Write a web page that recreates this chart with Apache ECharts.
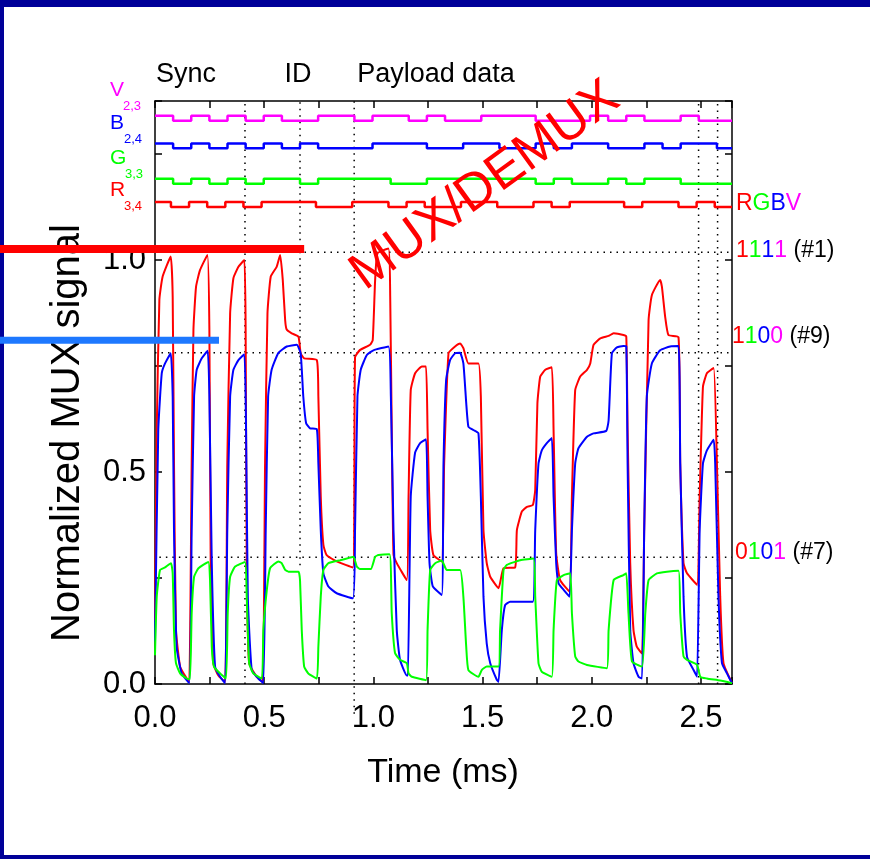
<!DOCTYPE html>
<html><head><meta charset="utf-8">
<script src="https://cdn.jsdelivr.net/npm/echarts@6/dist/echarts.min.js"></script>
<style>html,body{margin:0;padding:0;background:#fff}#c{width:870px;height:859px}</style>
</head><body><div id="c"></div>
<script>
// ---------- data ----------
const X_MAX = 2.642;           // ms, right edge of the plot
const Y_MAX = 1.375;
const xTickLabels = [0.0, 0.5, 1.0, 1.5, 2.0, 2.5];
const yTickLabels = [0.0, 0.5, 1.0];

// digital bit streams (one value per bit slot)
const BIT_MS = 0.083;
const bitsV = [1,0,1,0,1,0,1,0,0,1,1,0,1,1,0,1,0,0,1,1,1,0,0,0,1,0,1,0,0,1,0,0];
const bitsB = [1,0,1,0,1,0,1,0,1,0,0,0,1,1,1,0,0,1,1,0,0,1,0,1,1,0,0,1,0,1,1,0];
const bitsG = [1,0,1,0,1,0,1,1,0,1,1,1,1,0,0,1,1,1,1,1,1,0,1,0,0,1,0,1,1,0,0,0];
const bitsR = [1,0,1,0,1,0,1,1,1,0,0,1,1,0,1,0,0,1,1,0,0,1,0,1,1,1,0,1,1,0,1,0];
const delayV = 0, delayB = 0, delayG = 0, delayR = -0.01;
// display level of each digital trace (low level, step height)
const levelV = 1.3285, levelB = 1.2634, levelG = 1.180, levelR = 1.125;
const stepHeight = 0.0115;

// analog MUX traces [time ms, normalized signal]
const redTrace = [[0,0.15],[0.008,0.6],[0.02,0.906],[0.035,0.961],[0.072,1.008],[0.081,0.913],[0.087,0.52],[0.096,0.127],[0.115,0.041],[0.145,0.013],[0.157,0.005],[0.168,0.52],[0.176,0.835],[0.188,0.937],[0.206,0.976],[0.240,1.012],[0.249,0.835],[0.255,0.285],[0.267,0.049],[0.290,0.02],[0.321,0.005],[0.331,0.52],[0.344,0.874],[0.359,0.957],[0.382,0.984],[0.409,1.0],[0.415,0.835],[0.420,0.285],[0.431,0.049],[0.466,0.017],[0.493,0.005],[0.504,0.52],[0.515,0.874],[0.530,0.961],[0.557,0.984],[0.573,1.012],[0.585,0.953],[0.596,0.858],[0.603,0.836],[0.626,0.827],[0.657,0.819],[0.667,0.78],[0.683,0.768],[0.741,0.764],[0.748,0.678],[0.759,0.442],[0.771,0.328],[0.786,0.304],[0.832,0.289],[0.906,0.275],[0.916,0.771],[0.939,0.788],[0.985,0.800],[0.997,0.811],[1.008,0.953],[1.019,1.016],[1.069,1.027],[1.077,0.913],[1.084,0.599],[1.092,0.306],[1.107,0.285],[1.153,0.245],[1.161,0.442],[1.171,0.693],[1.191,0.733],[1.222,0.749],[1.241,0.749],[1.248,0.599],[1.26,0.363],[1.275,0.304],[1.313,0.289],[1.324,0.52],[1.344,0.78],[1.374,0.796],[1.397,0.803],[1.412,0.792],[1.435,0.756],[1.481,0.756],[1.492,0.678],[1.504,0.363],[1.519,0.285],[1.535,0.253],[1.573,0.226],[1.596,0.273],[1.649,0.275],[1.657,0.363],[1.68,0.407],[1.703,0.418],[1.730,0.422],[1.741,0.458],[1.751,0.662],[1.764,0.725],[1.787,0.741],[1.817,0.747],[1.825,0.599],[1.837,0.308],[1.855,0.245],[1.898,0.218],[1.909,0.442],[1.924,0.693],[1.947,0.725],[1.978,0.741],[1.993,0.756],[2.008,0.8],[2.039,0.815],[2.077,0.821],[2.1,0.827],[2.145,0.823],[2.158,0.819],[2.164,0.599],[2.176,0.285],[2.191,0.127],[2.206,0.088],[2.23,0.072],[2.24,0.363],[2.26,0.858],[2.275,0.917],[2.313,0.953],[2.321,0.937],[2.336,0.866],[2.351,0.823],[2.397,0.818],[2.405,0.52],[2.42,0.285],[2.436,0.261],[2.482,0.234],[2.494,0.442],[2.509,0.701],[2.527,0.733],[2.558,0.745],[2.573,0.52],[2.588,0.206],[2.603,0.049],[2.642,0.002]];
const blueTrace = [[0,0.1],[0.015,0.599],[0.031,0.733],[0.046,0.756],[0.072,0.78],[0.081,0.678],[0.087,0.363],[0.099,0.088],[0.122,0.025],[0.157,0.002],[0.168,0.363],[0.179,0.678],[0.191,0.741],[0.214,0.768],[0.241,0.786],[0.249,0.678],[0.26,0.285],[0.275,0.041],[0.298,0.017],[0.321,0.002],[0.331,0.363],[0.344,0.678],[0.359,0.741],[0.382,0.764],[0.409,0.778],[0.417,0.599],[0.425,0.206],[0.443,0.033],[0.473,0.013],[0.496,0.002],[0.507,0.363],[0.518,0.678],[0.534,0.741],[0.565,0.781],[0.603,0.796],[0.649,0.8],[0.667,0.78],[0.679,0.678],[0.692,0.615],[0.71,0.603],[0.741,0.601],[0.748,0.52],[0.759,0.363],[0.771,0.261],[0.794,0.23],[0.832,0.214],[0.906,0.202],[0.916,0.363],[0.927,0.678],[0.942,0.741],[0.97,0.776],[1.0,0.787],[1.069,0.796],[1.08,0.678],[1.092,0.363],[1.107,0.127],[1.122,0.057],[1.153,0.02],[1.158,0.02],[1.171,0.442],[1.191,0.546],[1.214,0.568],[1.241,0.577],[1.248,0.442],[1.257,0.285],[1.272,0.23],[1.313,0.21],[1.321,0.52],[1.333,0.717],[1.351,0.764],[1.374,0.78],[1.397,0.781],[1.412,0.756],[1.425,0.663],[1.435,0.607],[1.458,0.599],[1.481,0.591],[1.492,0.442],[1.504,0.206],[1.519,0.095],[1.535,0.049],[1.565,0.01],[1.573,0.005],[1.588,0.127],[1.603,0.186],[1.626,0.194],[1.672,0.194],[1.730,0.194],[1.741,0.363],[1.756,0.52],[1.771,0.551],[1.794,0.568],[1.817,0.58],[1.825,0.442],[1.837,0.285],[1.848,0.237],[1.871,0.222],[1.898,0.206],[1.909,0.363],[1.924,0.52],[1.939,0.556],[1.978,0.583],[2.008,0.591],[2.066,0.597],[2.077,0.622],[2.092,0.78],[2.115,0.794],[2.145,0.797],[2.158,0.796],[2.164,0.52],[2.176,0.127],[2.191,0.049],[2.214,0.017],[2.23,0.013],[2.24,0.363],[2.252,0.678],[2.275,0.756],[2.313,0.787],[2.359,0.796],[2.397,0.797],[2.405,0.52],[2.42,0.206],[2.436,0.064],[2.466,0.033],[2.482,0.017],[2.494,0.363],[2.509,0.52],[2.527,0.551],[2.558,0.576],[2.565,0.52],[2.58,0.206],[2.596,0.049],[2.619,0.025],[2.642,0.002]];
const greenTrace = [[0,0.068],[0.008,0.206],[0.023,0.269],[0.046,0.275],[0.073,0.285],[0.081,0.261],[0.087,0.127],[0.096,0.049],[0.115,0.025],[0.145,0.013],[0.16,0.011],[0.168,0.167],[0.179,0.253],[0.199,0.273],[0.244,0.288],[0.252,0.245],[0.26,0.088],[0.27,0.041],[0.298,0.025],[0.325,0.013],[0.333,0.167],[0.344,0.253],[0.367,0.277],[0.412,0.288],[0.42,0.206],[0.431,0.049],[0.45,0.025],[0.489,0.013],[0.496,0.127],[0.512,0.222],[0.527,0.273],[0.565,0.289],[0.58,0.285],[0.596,0.269],[0.611,0.265],[0.657,0.265],[0.664,0.245],[0.672,0.127],[0.683,0.041],[0.702,0.025],[0.741,0.013],[0.748,0.088],[0.759,0.206],[0.771,0.269],[0.794,0.285],[0.848,0.292],[0.893,0.298],[0.909,0.3],[0.924,0.277],[0.939,0.271],[0.988,0.271],[1.008,0.3],[1.023,0.304],[1.074,0.306],[1.084,0.167],[1.099,0.073],[1.122,0.057],[1.153,0.049],[1.161,0.025],[1.176,0.017],[1.241,0.009],[1.248,0.127],[1.26,0.269],[1.283,0.285],[1.313,0.291],[1.336,0.269],[1.397,0.269],[1.412,0.206],[1.425,0.088],[1.435,0.033],[1.481,0.017],[1.496,0.033],[1.519,0.041],[1.573,0.041],[1.58,0.127],[1.596,0.269],[1.611,0.281],[1.672,0.292],[1.733,0.296],[1.741,0.206],[1.756,0.049],[1.771,0.029],[1.817,0.017],[1.825,0.127],[1.84,0.245],[1.871,0.257],[1.901,0.261],[1.909,0.167],[1.924,0.065],[1.939,0.053],[1.978,0.045],[2.069,0.037],[2.077,0.127],[2.1,0.245],[2.145,0.257],[2.158,0.261],[2.168,0.167],[2.184,0.053],[2.23,0.041],[2.245,0.167],[2.26,0.245],[2.298,0.261],[2.344,0.265],[2.397,0.267],[2.405,0.167],[2.42,0.065],[2.436,0.057],[2.482,0.045],[2.497,0.017],[2.527,0.013],[2.588,0.008],[2.642,0.002]];

// dotted guide lines
const guideTimes = [0.412, 0.664, 0.912, 2.489, 2.576];
const guideTimeBottoms = [0, 0.28, -0.07, 0, 0];
const guideLevels = [1.018, 0.781, 0.299];
const guideLevelStarts = [0, 0, 0.02];

// highlight bars in the left margin: [end time, level]
const redBar = [0.683, 1.026];
const blueBar = [0.293, 0.811];

// ---------- chart ----------
const FONT = "'Liberation Sans', Arial, Helvetica, sans-serif";
const chart = echarts.init(document.getElementById('c'), null, {renderer: 'canvas'});

function stepData(bits, delay, level) {
  const d = bits.map((b, i) => [Math.max(0, i * BIT_MS + delay), level + b * stepHeight]);
  d.push([X_MAX, level + bits[bits.length - 1] * stepHeight]);
  return d;
}
function near(v, list) { return list.some(x => Math.abs(x - v) < 1e-6); }

const axisCommon = {
  type: 'value',
  interval: 0.25,
  axisLine: {show: true, onZero: false, lineStyle: {color: '#000', width: 1.5}},
  axisTick: {show: true, inside: true, length: 7, lineStyle: {color: '#000', width: 1.5}},
  splitLine: {show: false}
};

const series = [];
guideTimes.forEach((t, i) => series.push({
  type: 'line', silent: true, showSymbol: false, z: 1, clip: false,
  data: [[t, guideTimeBottoms[i]], [t, Y_MAX]],
  lineStyle: {color: '#000', width: 1.5, type: [1.5, 5]}
}));
guideLevels.forEach((v, i) => series.push({
  type: 'line', silent: true, showSymbol: false, z: 1,
  data: [[guideLevelStarts[i], v], [X_MAX, v]],
  lineStyle: {color: '#000', width: 1.5, type: [1.5, 5]}
}));
[[bitsV, delayV, levelV, '#ff00ff'], [bitsB, delayB, levelB, '#0000ff'],
 [bitsG, delayG, levelG, '#00ff00'], [bitsR, delayR, levelR, '#ff0000']].forEach(s => series.push({
  type: 'line', step: 'end', showSymbol: false, z: 3,
  data: stepData(s[0], s[1], s[2]),
  lineStyle: {color: s[3], width: 2.5}
}));
[[redTrace, '#ff0000'], [blueTrace, '#0000ff'], [greenTrace, '#00ff00']].forEach(s => series.push({
  type: 'line', showSymbol: false, z: 4, smooth: 0.15,
  data: s[0], lineStyle: {color: s[1], width: 2}
}));

chart.setOption({
  animation: false,
  backgroundColor: '#fff',
  grid: {left: 155, top: 101, right: 138, bottom: 175, containLabel: false},
  xAxis: [
    Object.assign({}, axisCommon, {min: 0, max: X_MAX, position: 'bottom',
      axisLabel: {show: true, color: '#000', fontSize: 31, fontFamily: FONT, margin: 19, showMaxLabel: true,
        formatter: v => near(v, xTickLabels) ? v.toFixed(1) : ''}}),
    Object.assign({}, axisCommon, {min: 0, max: X_MAX, position: 'top', axisLabel: {show: false}})
  ],
  yAxis: [
    Object.assign({}, axisCommon, {min: 0, max: Y_MAX, position: 'left',
      axisLabel: {show: true, color: '#000', fontSize: 31, fontFamily: FONT, margin: 9,
        formatter: v => near(v, yTickLabels) ? v.toFixed(1) : ''}}),
    Object.assign({}, axisCommon, {min: 0, max: Y_MAX, position: 'right', axisLabel: {show: false}})
  ],
  series: series
});

// ---------- annotations ----------
const rb = chart.convertToPixel({xAxisIndex: 0, yAxisIndex: 0}, redBar);
const bb = chart.convertToPixel({xAxisIndex: 0, yAxisIndex: 0}, blueBar);
const NAVY = '#000099';
function txt(x, y, text, size, color, extra) {
  return Object.assign({type: 'text', x: x, y: y, z: 50,
    style: {text: text, fill: color, font: size + 'px ' + FONT, align: 'left', verticalAlign: 'middle'}}, extra || {});
}
function ctxt(x, y, text, size) {
  return {type: 'text', x: x, y: y, z: 50,
    style: {text: text, fill: '#000', font: size + 'px ' + FONT, align: 'center', verticalAlign: 'middle'}};
}
const rich = {
  r: {fill: '#ff0000', color: '#ff0000'}, g: {fill: '#00ff00', color: '#00ff00'},
  b: {fill: '#0000ff', color: '#0000ff'}, v: {fill: '#ff00ff', color: '#ff00ff'}, k: {fill: '#000', color: '#000'}
};
function richTxt(x, y, text) {
  return {type: 'text', x: x, y: y, z: 50,
    style: {text: text, font: '23px ' + FONT, fontSize: 23, fontFamily: FONT, align: 'left', verticalAlign: 'middle', rich: rich}};
}
chart.setOption({
  graphic: [
    {type: 'rect', shape: {x: 0, y: 0, width: 870, height: 7}, style: {fill: NAVY}, z: 40},
    {type: 'rect', shape: {x: 0, y: 0, width: 4, height: 859}, style: {fill: NAVY}, z: 40},
    {type: 'rect', shape: {x: 0, y: 855, width: 870, height: 4}, style: {fill: NAVY}, z: 40},
    ctxt(186, 75, 'Sync', 27),
    ctxt(298, 75, 'ID', 27),
    ctxt(436, 75, 'Payload data', 27),
    txt(110, 90, 'V', 21, '#ff00ff'), txt(123, 106, '2,3', 13, '#ff00ff'),
    txt(110, 123, 'B', 21, '#0000ff'), txt(124, 139, '2,4', 13, '#0000ff'),
    txt(110, 158, 'G', 21, '#00ff00'), txt(125, 174, '3,3', 13, '#00ff00'),
    txt(110, 190, 'R', 21, '#ff0000'), txt(124, 206, '3,4', 13, '#ff0000'),
    richTxt(736, 204, '{r|R}{g|G}{b|B}{v|V}'),
    richTxt(736, 251, '{r|1}{g|1}{b|1}{v|1}{k| (#1)}'),
    richTxt(732, 337, '{r|1}{g|1}{b|0}{v|0}{k| (#9)}'),
    richTxt(735, 553, '{r|0}{g|1}{b|0}{v|1}{k| (#7)}'),
    {type: 'text', x: 68, y: 433, rotation: Math.PI / 2, z: 50,
      style: {text: 'Normalized MUX signal', fill: '#000', font: '40px ' + FONT, align: 'center', verticalAlign: 'middle'}},
    ctxt(443, 773, 'Time (ms)', 34),
    {type: 'rect', shape: {x: 0, y: rb[1] - 4, width: rb[0], height: 8}, style: {fill: '#ff0000'}, z: 55},
    {type: 'rect', shape: {x: 0, y: bb[1] - 3.5, width: bb[0], height: 7}, style: {fill: '#1e78ff'}, z: 55},
    {type: 'text', x: 485, y: 186, rotation: 36 * Math.PI / 180, z: 70,
      style: {text: 'MUX/DEMUX', fill: '#ff0000', font: '52px ' + FONT, align: 'center', verticalAlign: 'middle'}}
  ]
});
</script></body></html>
